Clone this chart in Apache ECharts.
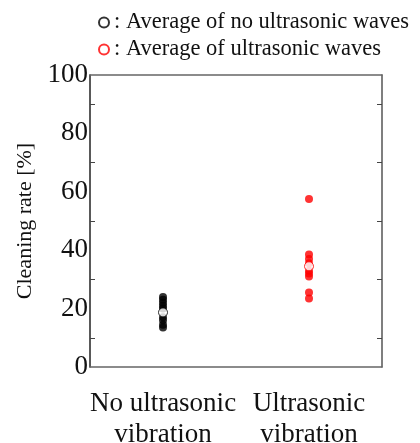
<!DOCTYPE html>
<html>
<head>
<meta charset="utf-8">
<script src="https://cdn.jsdelivr.net/npm/echarts@6/dist/echarts.min.js"></script>
<style>
html,body{margin:0;padding:0;background:#fff;}
#main{width:420px;height:443px;}
</style>
</head>
<body>
<div id="main"></div>
<script>
var categories = ['No ultrasonic\nvibration', 'Ultrasonic\nvibration'];
var noUltrasonic = [24, 23, 22, 21, 20, 17, 16, 14.5, 13.5];
var ultrasonic = [57.5, 38.5, 37, 35.5, 33, 32, 31, 25.5, 23.5];
var averages = [18.7, 34.5];
var legendNames = [': Average of no ultrasonic waves', ': Average of ultrasonic waves'];
var yTicks = [0, 20, 40, 60, 80, 100];

var font = 'Liberation Serif';
var myChart = echarts.init(document.getElementById('main'));

function pts(cat, arr){
  var out = [];
  for (var i = 0; i < arr.length; i++) out.push([cat, arr[i]]);
  return out;
}

var option = {
  backgroundColor: '#fff',
  animation: false,
  grid: {left: 90, right: 38, top: 75, bottom: 76, outerBoundsMode: 'none'},
  legend: {
    orient: 'vertical',
    left: 93,
    top: 6,
    itemWidth: 10,
    itemHeight: 10,
    itemGap: 4,
    data: legendNames,
    textStyle: {fontFamily: font, fontSize: 22.5, color: '#111'}
  },
  xAxis: [{
    type: 'category',
    data: categories,
    boundaryGap: true,
    axisLine: {onZero: false, lineStyle: {color: '#666', width: 1.5}},
    axisTick: {inside: true, alignWithLabel: true, length: 5, lineStyle: {color: '#444'}},
    axisLabel: {interval: 0, fontFamily: font, fontSize: 27, color: '#111', margin: 21, lineHeight: 31}
  }, {
    type: 'category',
    position: 'top',
    data: categories,
    axisLine: {show: true, onZero: false, lineStyle: {color: '#666', width: 1.5}},
    axisTick: {show: false},
    axisLabel: {show: false}
  }],
  yAxis: [{
    type: 'value',
    min: yTicks[0],
    max: yTicks[yTicks.length - 1],
    interval: 20,
    name: 'Cleaning rate [%]',
    nameLocation: 'middle',
    nameGap: 52,
    nameTextStyle: {fontFamily: font, fontSize: 22, color: '#111'},
    axisLine: {show: true, onZero: false, lineStyle: {color: '#222', width: 1.5}},
    axisTick: {show: false, inside: true},
    minorTick: {show: true, splitNumber: 2, length: 5, lineStyle: {color: '#444'}},
    splitLine: {show: false},
    axisLabel: {fontFamily: font, fontSize: 27, color: '#111', margin: 2}
  }, {
    type: 'value',
    position: 'right',
    min: yTicks[0],
    max: yTicks[yTicks.length - 1],
    interval: 20,
    axisLine: {show: true, onZero: false, lineStyle: {color: '#555', width: 1.5}},
    axisTick: {show: false, inside: true},
    minorTick: {show: true, splitNumber: 2, length: 5, lineStyle: {color: '#444'}},
    splitLine: {show: false},
    axisLabel: {show: false}
  }],
  series: [{
    name: 'no',
    type: 'scatter',
    symbolSize: 8,
    itemStyle: {color: '#000'},
    data: pts(categories[0], noUltrasonic)
  }, {
    name: 'us',
    type: 'scatter',
    symbolSize: 8,
    itemStyle: {color: '#f00'},
    data: pts(categories[1], ultrasonic)
  }, {
    name: legendNames[0],
    type: 'scatter',
    symbolSize: 9,
    z: 5,
    itemStyle: {color: '#fff', borderColor: '#000', borderWidth: 1},
    data: [[categories[0], averages[0]]]
  }, {
    name: legendNames[1],
    type: 'scatter',
    symbolSize: 9,
    z: 5,
    itemStyle: {color: '#fff', borderColor: '#f00', borderWidth: 1},
    data: [[categories[1], averages[1]]]
  }]
};

myChart.setOption(option);
</script>
</body>
</html>
